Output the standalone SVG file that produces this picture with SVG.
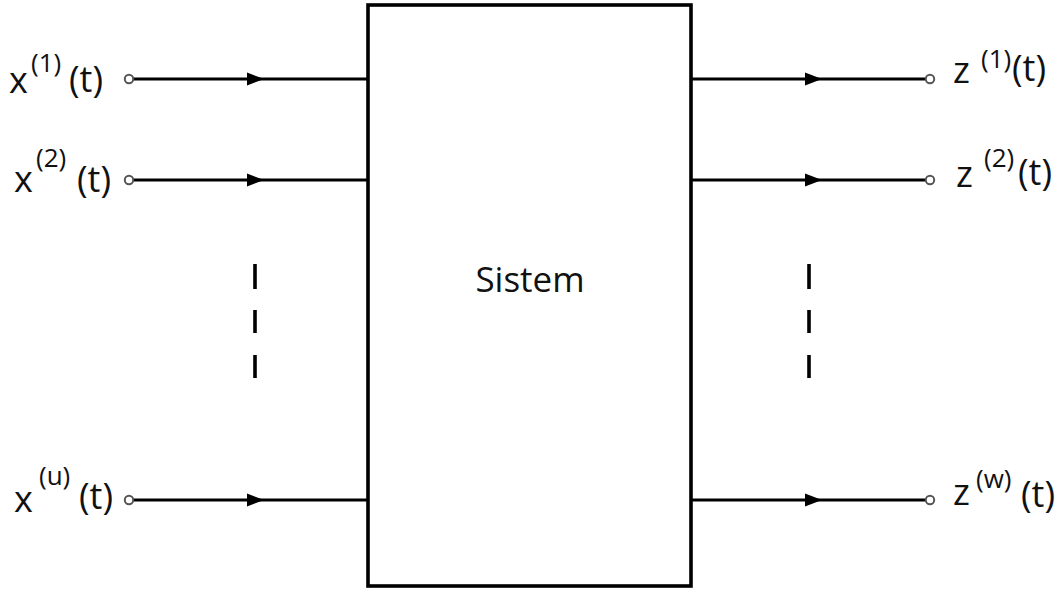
<svg xmlns="http://www.w3.org/2000/svg" xmlns:xlink="http://www.w3.org/1999/xlink" width="1064" height="589" viewBox="0 0 1064 589">
<style>
.lbl{font-family:"Open Sans","Liberation Sans",sans-serif;font-size:36px;fill:#111}
.sup{font-family:"Open Sans","Liberation Sans",sans-serif;font-size:26px;fill:#111}
.wire{stroke:#000;stroke-width:2.8;fill:none}
.term{stroke:#555;stroke-width:2;fill:#fff}
.dash{stroke:#000;stroke-width:3.6;fill:none}
</style>
<defs>
<polygon id="ah" points="-17,-6.5 0,0 -17,6.5" fill="#000"/>
</defs>
<rect width="1064" height="589" fill="#fff"/>
<g id="system">
<rect x="368" y="5" width="323" height="581" fill="#fff" stroke="#000" stroke-width="3.6"/>
<text x="530" y="292" text-anchor="middle" font-family="'Open Sans','Liberation Sans',sans-serif" font-size="35" fill="#111">Sistem</text>
</g>
<g id="connectors">
<line class="wire" x1="133" y1="79" x2="368" y2="79"/>
<line class="wire" x1="133" y1="180" x2="368" y2="180" stroke-width="3.6"/>
<line class="wire" x1="133" y1="500" x2="368" y2="500" stroke-width="3.2"/>
<use xlink:href="#ah" x="264" y="79"/>
<use xlink:href="#ah" x="264" y="180"/>
<use xlink:href="#ah" x="264" y="500"/>
<line class="wire" x1="691" y1="79" x2="926" y2="79"/>
<line class="wire" x1="691" y1="180" x2="926" y2="180" stroke-width="3.6"/>
<line class="wire" x1="691" y1="500" x2="926" y2="500" stroke-width="3.2"/>
<use xlink:href="#ah" x="822" y="79"/>
<use xlink:href="#ah" x="822" y="180"/>
<use xlink:href="#ah" x="822" y="500"/>
</g>
<g id="dots-left">
<line class="dash" x1="255" y1="264" x2="255" y2="289"/>
<line class="dash" x1="255" y1="310" x2="255" y2="333"/>
<line class="dash" x1="255" y1="355" x2="255" y2="378"/>
</g>
<g id="dots-right">
<line class="dash" x1="809" y1="264" x2="809" y2="289"/>
<line class="dash" x1="809" y1="310" x2="809" y2="333"/>
<line class="dash" x1="809" y1="355" x2="809" y2="378"/>
</g>
<g id="in1">
<circle class="term" cx="129" cy="79" r="4.2"/>
<text class="lbl" x="9" y="93">x</text><text class="sup" x="31" y="72">(1)</text><text class="lbl" x="69" y="92">(t)</text>
</g>
<g id="in2">
<circle class="term" cx="129" cy="180" r="4.2"/>
<text class="lbl" x="14" y="192">x</text><text class="sup" x="36" y="167">(2)</text><text class="lbl" x="77" y="192">(t)</text>
</g>
<g id="inu">
<circle class="term" cx="129" cy="500" r="4.2"/>
<text class="lbl" x="14" y="512">x</text><text class="sup" x="39" y="485">(u)</text><text class="lbl" x="79" y="509">(t)</text>
</g>
<g id="out1">
<circle class="term" cx="930" cy="79" r="4.2"/>
<text class="lbl" x="953" y="83">z</text><text class="sup" x="981" y="68">(1)</text><text class="lbl" x="1012" y="81">(t)</text>
</g>
<g id="out2">
<circle class="term" cx="930" cy="180" r="4.2"/>
<text class="lbl" x="956" y="187">z</text><text class="sup" x="984" y="167">(2)</text><text class="lbl" x="1018" y="185">(t)</text>
</g>
<g id="outw">
<circle class="term" cx="930" cy="500" r="4.2"/>
<text class="lbl" x="953" y="505">z</text><text class="sup" x="976" y="488">(w)</text><text class="lbl" x="1021" y="507">(t)</text>
</g>
</svg>
